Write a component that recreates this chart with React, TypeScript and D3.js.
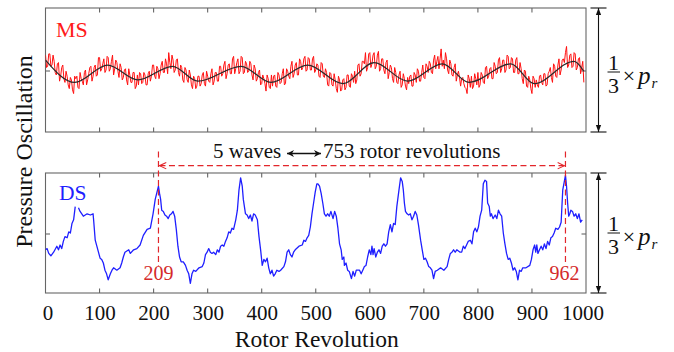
import React from "react";
import * as d3 from "d3";

// ---- data ----
const xTickValues = [0, 100, 200, 300, 400, 500, 600, 700, 800, 900, 1000];
const innerTicks = [100, 200, 300, 400, 500, 600, 700, 800, 900];

// MS (top) raw pressure signal, sampled every 2 rotor revolutions (percent of panel height)
const msStep = 2;
const msValues = [
  62, 52, 53, 63, 63, 53, 54, 62, 57, 48, 46, 55, 56, 41, 45, 52, 54, 43, 40, 49, 45, 38, 35, 44, 42, 34, 31, 45,
  43, 45, 36, 35, 48, 43, 41, 38, 48, 50, 38, 42, 47, 52, 53, 41, 45, 52, 54, 45, 46, 60, 60, 49, 51, 55, 59, 48, 50, 61,
  60, 49, 51, 57, 62, 46, 51, 58, 56, 49, 44, 55, 52, 42, 44, 50, 51, 42, 38, 51, 46, 40, 40, 48, 48, 35, 37, 46,
  38, 48, 47, 39, 40, 48, 46, 38, 38, 47, 49, 41, 45, 54, 54, 45, 43, 53, 51, 43, 47, 54, 57, 48, 48, 59, 55, 47, 64, 56, 51, 62,
  58, 48, 50, 58, 59, 48, 45, 54, 52, 42, 40, 52, 50, 42, 40, 50, 46, 38, 35, 45, 43, 35, 37, 45,
  45, 37, 39, 46, 48, 39, 37, 49, 45, 41, 40, 47, 51, 38, 41, 48, 48, 41, 41, 53, 53, 45, 47, 54, 57, 43, 47, 54, 55, 47, 47, 59, 61, 47, 51, 56, 59, 47, 49, 61,
  60, 47, 48, 57, 55, 48, 49, 57, 55, 46, 42, 54, 51, 41, 43, 48, 50, 38, 39, 46, 43, 39, 33, 46, 43, 36, 35, 46,
  37, 45, 46, 37, 36, 48, 46, 39, 40, 47, 51, 38, 39, 51, 49, 45, 43, 53, 57, 44, 47, 54, 56, 46, 46, 59, 57, 50, 52, 59, 61, 49, 50, 60,
  59, 50, 50, 59, 61, 48, 50, 55, 54, 45, 44, 56, 55, 45, 44, 51, 48, 38, 37, 48, 47, 38, 37, 47, 42, 35, 32, 45, 42, 33, 34, 42,
  43, 34, 36, 46, 46, 37, 36, 47, 45, 40, 49, 39, 42, 54, 55, 45, 47, 57, 57, 55, 64, 49, 52, 63, 64, 52, 55, 62,
  64, 51, 53, 62, 65, 49, 51, 59, 59, 50, 47, 56, 58, 43, 48, 54, 52, 43, 40, 52, 48, 40, 39, 46, 49, 36, 38, 47, 43, 37, 34, 44,
  39, 45, 46, 37, 37, 48, 46, 40, 51, 49, 41, 41, 48, 54, 44, 43, 55, 53, 48, 57, 55, 48, 47, 58, 62, 51, 57, 61, 51, 59, 67, 53,
  58, 51, 64, 59, 50, 47, 58, 55, 46, 45, 52, 55, 41, 46, 49, 44, 37, 43, 44, 39, 36, 35, 31, 46, 43, 36,
  45, 35, 37, 47, 43, 38, 48, 36, 38, 48, 46, 40, 39, 52, 53, 43, 45, 51, 52, 43, 43, 56, 53, 47, 48, 58, 60, 48, 51, 58, 58, 48, 50, 62, 61, 51, 52, 60,
  59, 48, 48, 58, 60, 47, 47, 56, 51, 43, 39, 50, 49, 37, 36, 45, 42, 35, 31, 45, 43, 36,
  42, 38, 36, 45, 46, 40, 38, 47, 47, 37, 38, 47, 49, 52, 44, 40, 55, 53, 45, 44, 54, 59, 46, 50, 58, 59, 56, 64, 69, 52, 54, 62, 63, 52, 53, 64,
  63, 50, 52, 59, 60, 47, 52, 57, 40,
];

// MS smooth fit: extrema (rotor revolution, percent of panel height)
const fitRev = [0, 54, 115, 171, 235, 282, 362, 417, 485, 550, 608, 670, 734, 784, 861, 904, 978, 996];
const fitVal = [58, 40, 54, 42, 53, 41, 53, 40, 54, 39, 56, 41, 55, 40, 55, 39, 57, 49];

// DS (bottom) pressure signal: [rotor revolution, fraction of panel height]; NaN = gap
const dsPoints: [number, number][] = [
  [0, .36], [3, .37], [6, .33], [10, .31], [15, .34], [21, .39], [24, .36], [27, .40], [30, .37], [33, .43],
  [36, .47], [40, .46], [43, .51], [46, .50], [49, .58], [52, .61], [55, .72], [58, NaN], [61, .71], [64, .68],
  [70, .64], [77, .66], [83, .65], [88, .66], [89, .61], [92, .44], [95, .39], [98, .34], [101, .29], [104, .28],
  [107, .25], [110, .19], [113, .16], [116, .11], [120, .16], [123, .19], [126, .21], [132, .19], [138, .21], [141, .25],
  [144, .30], [147, .34], [154, .36], [157, .33], [163, .36], [169, .37], [175, .40], [181, .48], [188, .53], [194, .54],
  [199, .66], [203, .78], [209, .89], [211, .83], [213, .78], [215, .69], [218, .68], [221, .65], [224, .64], [227, .62],
  [230, .65], [233, .66], [236, .68], [239, .64], [242, .53], [245, .39], [248, .30], [251, .26], [255, .26], [259, .23],
  [262, .19], [265, .16], [268, .08], [271, .16], [274, .19], [278, .18], [284, .21], [290, .22], [293, .25], [296, .32],
  [299, .34], [302, .37], [305, .34], [308, .33], [311, .34], [315, .32], [318, .36], [321, .34], [324, .39], [327, .40],
  [330, .39], [333, .43], [336, .46], [339, .51], [342, .50], [345, .54], [348, .53], [352, .61], [355, .69], [358, .86],
  [361, .96], [364, .89], [366, .78], [368, .72], [370, .66], [373, .65], [376, .62], [379, .65], [382, .60], [385, .66],
  [388, .65], [392, .61], [395, .47], [398, .36], [401, .23], [404, .28], [407, .26], [410, .29], [413, .21], [416, .16],
  [419, .19], [422, .14], [425, .16], [428, .19], [432, .18], [435, .19], [441, .22], [444, .26], [447, .34], [450, .36],
  [453, .32], [456, .30], [459, .34], [462, .36], [469, .39], [475, .40], [478, .44], [481, .43], [484, .46], [487, .48],
  [490, .55], [493, .66], [496, .75], [499, .84], [502, .91], [504, .91], [507, .89], [510, .83], [513, .75], [516, .66],
  [519, .64], [522, .66], [525, .64], [528, .68], [532, .62], [535, .68], [538, .64], [541, .54], [544, .41], [547, .36],
  [549, .28], [552, .30], [553, .23], [556, .25], [559, .19], [562, .18], [566, .12], [569, .18], [572, .14], [575, .19],
  [581, .19], [584, .16], [587, .19], [590, .22], [593, .23], [596, .30], [599, .36], [602, .32], [604, .39], [606, .32],
  [608, .37], [611, .30], [614, .34], [617, .36], [620, .33], [623, .39], [626, .41], [629, .39], [632, .41], [635, .51],
  [638, .57], [641, .51], [644, .58], [647, .57], [650, .72], [654, .86], [657, .96], [660, .93], [662, .86], [664, .75],
  [666, .68], [669, .66], [672, .65], [675, .66], [678, .61], [681, .64], [684, .68], [687, .65], [690, .57], [694, .44],
  [697, .36], [700, .28], [703, .29], [706, .26], [709, .22], [712, .21], [715, .19], [718, .12], [721, .18], [725, .19],
  [731, .21], [737, .19], [743, .22], [746, .28], [749, .33], [752, .34], [755, .36], [758, .34], [761, .36], [767, .34],
  [770, .34], [773, .39], [776, .37], [779, .40], [782, .43], [786, .44], [789, .41], [792, .51], [795, .54], [798, .51],
  [801, .55], [804, .64], [807, .69], [810, .91], [813, .94], [816, .93], [818, .75], [821, .72], [823, .64], [825, .66],
  [828, .62], [832, .65], [835, .62], [838, .69], [841, .66], [844, .64], [847, .50], [850, .41], [853, .33], [856, .28],
  [859, .29], [862, .25], [865, .19], [868, .21], [871, .18], [874, .11], [877, .19], [880, .18], [883, .21], [889, .21],
  [896, .23], [899, .28], [902, .36], [905, .40], [907, .34], [909, .40], [911, .33], [914, .36], [917, .39], [920, .36],
  [923, .41], [926, .37], [929, .43], [932, .40], [935, .46], [938, .47], [941, .50], [944, .54], [948, .53], [951, .55],
  [954, .59], [957, .86], [962, .98], [964, .89], [966, .75], [968, .64], [970, .66], [972, .69], [975, .68], [978, .64],
  [981, .66], [984, .62], [987, .66], [990, .59], [993, .61],
];

const markStart = 209;
const markEnd = 962;
const annotationLeft = "5 waves";
const annotationRight = "753 rotor revolutions";
const xTitle = "Rotor Revolution";
const yTitle = "Pressure Oscillation";

// ---- layout ----
const W = 674;
const H = 352;
const X0 = 45.5;
const X1 = 586;
const TOP = { t: 8, b: 132 };
const BOT = { t: 173, b: 293 };
const SERIF = "'Liberation Serif', 'Times New Roman', serif";

export default function App() {
  const x = d3.scaleLinear().domain([0, 1000]).range([X0, X1]);
  const yTop = d3.scaleLinear().domain([0, 100]).range([TOP.b, TOP.t]);
  const yBot = d3.scaleLinear().domain([0, 1]).range([BOT.b, BOT.t]);

  const msLine = d3
    .line<number>()
    .x((_, i) => x(i * msStep))
    .y((d) => yTop(d));
  const fitLine = d3
    .line<number>()
    .x((_, i) => x(fitRev[i]))
    .y((d) => yTop(d))
    .curve(d3.curveMonotoneX);
  const dsLine = d3
    .line<[number, number]>()
    .defined((d) => !isNaN(d[1]))
    .x((d) => x(d[0]))
    .y((d) => yBot(d[1]));

  const panels = [TOP, BOT];
  const xs = x(markStart);
  const xe = x(markEnd);
  const arrowY = 165.7;
  const bracketX = 598.5;

  const scaleBar = (p: { t: number; b: number }, key: string) => {
    const midY = key === "fa" ? 72 : 233;
    return (
      <g key={key} fontFamily={SERIF} fill="#111">
        <line x1={bracketX} x2={bracketX} y1={p.t} y2={p.b} stroke="#111" strokeWidth={1.1} />
        <line x1={bracketX - 8} x2={bracketX + 8} y1={p.t} y2={p.t} stroke="#111" strokeWidth={1.1} />
        <line x1={bracketX - 8} x2={bracketX + 8} y1={p.b} y2={p.b} stroke="#111" strokeWidth={1.1} />
        <path d={`M${bracketX},${p.t} L${bracketX - 2.6},${p.t + 7} L${bracketX + 2.6},${p.t + 7} Z`} fill="#111" />
        <path d={`M${bracketX},${p.b} L${bracketX - 2.6},${p.b - 7} L${bracketX + 2.6},${p.b - 7} Z`} fill="#111" />
        <text x={613.5} y={midY - 2.5} fontSize={22} textAnchor="middle">1</text>
        <line x1={607.5} x2={620} y1={midY} y2={midY} stroke="#111" strokeWidth={1} />
        <text x={613.5} y={midY + 20.5} fontSize={22} textAnchor="middle">3</text>
        <text x={629} y={midY + 11} fontSize={22} textAnchor="middle">×</text>
        <text x={638} y={midY + 12} fontSize={25} fontStyle="italic">p</text>
        <text x={651.5} y={midY + 16} fontSize={15} fontStyle="italic">r</text>
      </g>
    );
  };

  return (
    <svg width={W} height={H} style={{ position: "absolute", left: 0, top: 0, background: "#fff" }}>
      <defs>
        <clipPath id="clipTop">
          <rect x={X0} y={TOP.t} width={X1 - X0} height={TOP.b - TOP.t} />
        </clipPath>
        <clipPath id="clipBot">
          <rect x={X0} y={BOT.t} width={X1 - X0} height={BOT.b - BOT.t} />
        </clipPath>
        <marker id="chev" viewBox="0 0 10 10" refX="9.5" refY="5" markerWidth="8" markerHeight="8" markerUnits="userSpaceOnUse" orient="auto-start-reverse">
          <path d="M1,1 L9.5,5 L1,9" fill="none" stroke="#e2262b" strokeWidth={1.3} />
        </marker>
        <marker id="solid" viewBox="0 0 10 10" refX="10" refY="5" markerWidth="8" markerHeight="7" markerUnits="userSpaceOnUse" orient="auto-start-reverse">
          <path d="M0,0 L10,5 L0,10 L3,5 Z" fill="#111" />
        </marker>
      </defs>

      {/* frames */}
      {panels.map((p, k) => (
        <g key={"f" + k} stroke="#666" strokeWidth={1.1} fill="none">
          <rect x={X0} y={p.t} width={X1 - X0} height={p.b - p.t} />
          {innerTicks.map((t) => (
            <g key={t}>
              <line x1={x(t)} x2={x(t)} y1={p.t} y2={p.t + 4.5} />
              <line x1={x(t)} x2={x(t)} y1={p.b} y2={p.b - 4.5} />
            </g>
          ))}
          <line x1={X0} x2={X0 + 4.5} y1={(p.t + p.b) / 2 + 1} y2={(p.t + p.b) / 2 + 1} />
          <line x1={X1} x2={X1 - 4.5} y1={(p.t + p.b) / 2 + 1} y2={(p.t + p.b) / 2 + 1} />
        </g>
      ))}

      {/* MS panel */}
      <g clipPath="url(#clipTop)">
        <path d={msLine(msValues) || ""} fill="none" stroke="#ff1010" strokeWidth={1} />
        <path d={fitLine(fitVal) || ""} fill="none" stroke="#2a2a2a" strokeWidth={1.2} />
      </g>
      <text x={56} y={36.5} fontFamily={SERIF} fontSize={22} fill="#ff1a1a">MS</text>

      {/* DS panel */}
      <g clipPath="url(#clipBot)">
        <path d={dsLine(dsPoints) || ""} fill="none" stroke="#1f1fff" strokeWidth={1.3} strokeLinejoin="round" />
      </g>
      <text x={59} y={200} fontFamily={SERIF} fontSize={21.5} fill="#1f1fff">DS</text>

      {/* annotations */}
      <g stroke="#e2262b" strokeWidth={1.2} strokeDasharray="6 3.5" fill="none">
        <line x1={xs} x2={xs} y1={151.5} y2={266} />
        <line x1={xe} x2={xe} y1={151.5} y2={264} />
        <line x1={xs + 1} x2={xe - 1} y1={arrowY} y2={arrowY} markerStart="url(#chev)" markerEnd="url(#chev)" />
      </g>
      <text x={xs} y={280} fontFamily={SERIF} fontSize={20} fill="#d42a2a" textAnchor="middle">{markStart}</text>
      <text x={xe - 1} y={280} fontFamily={SERIF} fontSize={20} fill="#d42a2a" textAnchor="middle">{markEnd}</text>
      <text x={213} y={158} fontFamily={SERIF} fontSize={21} fill="#111">{annotationLeft}</text>
      <line x1={287} x2={321} y1={153.5} y2={153.5} stroke="#111" strokeWidth={1.3} markerStart="url(#solid)" markerEnd="url(#solid)" />
      <text x={323} y={158} fontFamily={SERIF} fontSize={21} fill="#111">{annotationRight}</text>

      {/* right scale brackets */}
      {scaleBar(TOP, "fa")}
      {scaleBar(BOT, "fb")}

      {/* x axis labels */}
      {xTickValues.map((t) => (
        <text key={t} x={x(t) + (t === 0 ? 2.5 : t === 1000 ? -3 : 0.5)} y={320} fontFamily={SERIF} fontSize={21} fill="#111" textAnchor="middle">
          {t}
        </text>
      ))}
      <text x={(X0 + X1) / 2 + 1} y={346.5} fontFamily={SERIF} fontSize={23.5} fill="#111" textAnchor="middle">{xTitle}</text>
      <text transform={`translate(32, 151.5) rotate(-90)`} fontFamily={SERIF} fontSize={24} fill="#111" textAnchor="middle">{yTitle}</text>
    </svg>
  );
}
